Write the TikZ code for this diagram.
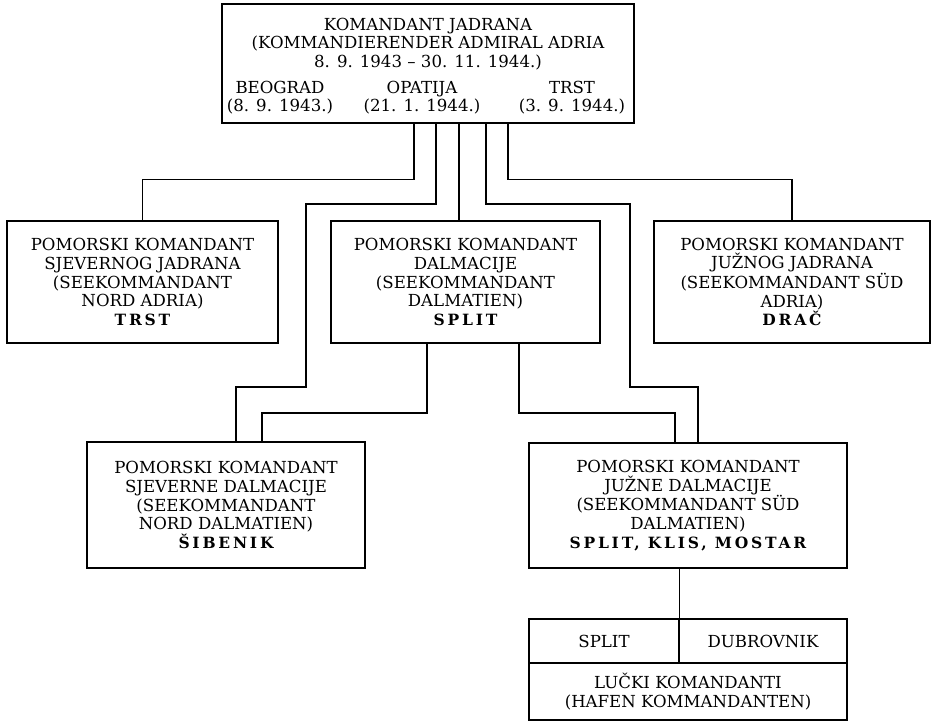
\documentclass[tikz,border=0pt]{standalone}
\usepackage{fontspec}
\setmainfont{DejaVu Serif}
\newfontfamily\cityfont{DejaVu Serif}[LetterSpace=18]
\newcommand{\chartfont}{\fontsize{16.6}{18.7}\selectfont}
\newcommand{\city}[1]{{\cityfont\fontsize{15.5}{18.7}\selectfont\bfseries #1}}

\begin{document}
\begin{tikzpicture}[x = 1pt, y = -1pt, line width = 1.4pt,
                    box/.style = {draw, rectangle, inner sep = 0pt, align = center, font = \chartfont},
                    txt/.style = {inner sep = 0pt, align = center, font = \chartfont}]
    \useasboundingbox [fill = white] (0, 0) rectangle (931, 727);

    % komandant jadrana
    \node [box, minimum width = 412pt, minimum height = 119pt] (adria) at (428, 63.5){};
    \node [txt] (adrianame) at (428, 44){KOMANDANT JADRANA\\(KOMMANDIERENDER ADMIRAL ADRIA\\8. 9. 1943 – 30. 11. 1944.)};
    \node [txt] (beograd) at (280, 97.5){BEOGRAD\\(8. 9. 1943.)};
    \node [txt] (opatija) at (422, 97.5){OPATIJA\\(21. 1. 1944.)};
    \node [txt] (trst) at (572, 97.5){TRST\\(3. 9. 1944.)};

    % pomorski komandanti
    \node [box, minimum width = 271pt, minimum height = 122pt] (sjever) at (142.5, 282){POMORSKI KOMANDANT\\SJEVERNOG JADRANA\\(SEEKOMMANDANT\\NORD ADRIA)\\\city{TRST}};
    \node [box, minimum width = 269pt, minimum height = 122pt] (dalm) at (465.5, 282){POMORSKI KOMANDANT\\DALMACIJE\\(SEEKOMMANDANT\\DALMATIEN)\\\city{SPLIT}};
    \node [box, minimum width = 276pt, minimum height = 122pt] (jug) at (792, 282){POMORSKI KOMANDANT\\JUŽNOG JADRANA\\(SEEKOMMANDANT SÜD\\ADRIA)\\\city{DRAČ}};
    \node [box, minimum width = 278pt, minimum height = 126pt] (sibenik) at (226, 505){POMORSKI KOMANDANT\\SJEVERNE DALMACIJE\\(SEEKOMMANDANT\\NORD DALMATIEN)\\\city{ŠIBENIK}};
    \node [box, minimum width = 318pt, minimum height = 125pt] (jdalm) at (688, 505.5){POMORSKI KOMANDANT\\JUŽNE DALMACIJE\\(SEEKOMMANDANT SÜD\\DALMATIEN)\\\city{SPLIT, KLIS, MOSTAR}};

    % lucki komandanti
    \node [box, minimum width = 150pt, minimum height = 44pt] (lsplit) at (604, 641){SPLIT};
    \node [box, minimum width = 168pt, minimum height = 44pt] (ldubrovnik) at (763, 641){DUBROVNIK};
    \node [box, minimum width = 318pt, minimum height = 57pt] (lucki) at (688, 691.5){LUČKI KOMANDANTI\\(HAFEN KOMMANDANTEN)};

    \coordinate (b1) at (306, 204);
    \coordinate (b2) at (236, 387);
    \coordinate (c1) at (630, 204);
    \coordinate (c2) at (698, 387);
    \coordinate (d1) at (262, 413);
    \coordinate (d2) at (675, 413);

    \draw ([xshift = -14pt]adria.south) |- ([yshift = 41pt]sjever.north) -- (sjever.north);
    \draw ([xshift = 8pt]adria.south) |- (b1) |- (b2) -- (b2 |- sibenik.north);
    \draw ([xshift = 31pt]adria.south) -- ([xshift = 31pt]adria.south |- dalm.north);
    \draw ([xshift = 58pt]adria.south) |- (c1) |- (c2) -- (c2 |- jdalm.north);
    \draw ([xshift = 80pt]adria.south) |- ([yshift = 41pt]jug.north) -- (jug.north);
    \draw ([xshift = -38.5pt]dalm.south) |- (d1) -- (d1 |- sibenik.north);
    \draw ([xshift = 53.5pt]dalm.south) |- (d2) -- (d2 |- jdalm.north);
    \draw (jdalm.south -| lsplit.east) -- (lsplit.north east);
\end{tikzpicture}
\end{document}
